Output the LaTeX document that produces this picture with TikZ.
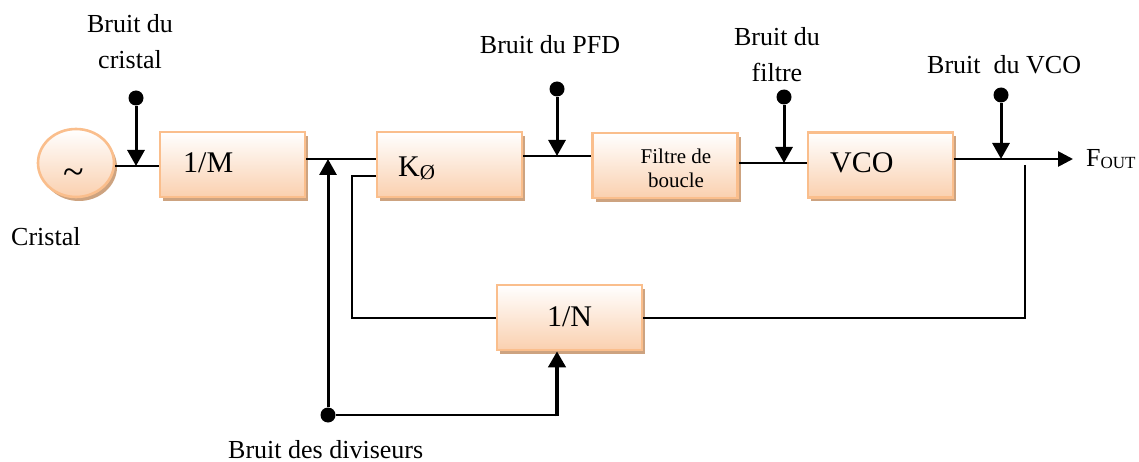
\documentclass[tikz,border=0pt]{standalone}
\usepackage{fontspec}
\setmainfont{Liberation Serif}
\usetikzlibrary{arrows.meta,shapes.geometric,shadows}
\definecolor{bord}{RGB}{250,190,140}
\definecolor{peach}{RGB}{250,208,175}
\definecolor{shad}{RGB}{205,163,128}
\begin{document}
\begin{tikzpicture}[x=1pt,y=-1pt,
  blk/.style={draw=bord, line width=2.6pt, top color=white, bottom color=peach,
    minimum width=145pt, minimum height=65pt, inner sep=0pt,
    general shadow={fill=shad, shadow xshift=3pt, shadow yshift=-4pt}},
  lbl/.style={font=\fontsize{26}{36}\selectfont, inner sep=0pt},
  btxt/.style={font=\fontsize{30}{30}\selectfont, inner sep=0pt},
  wire/.style={line width=2.7pt},
  tip/.style={-{Triangle[length=16pt,width=17pt]}},
  nz/.style={line width=3pt, tip},
  ndot/.style={circle, fill=black, minimum size=15pt, inner sep=0pt},
]
\useasboundingbox (0,0) rectangle (1139,462);

% blocks
\node[blk, ellipse, minimum width=76pt, minimum height=68pt] (cr) at (76,163) {};
\node[blk] (M) at (232.5,164.5) {};
\node[blk] (K) at (449.5,164.5) {};
\node[blk] (F) at (665,165.5) {};
\node[blk] (V) at (880.5,165) {};
\node[blk] (N) at (569.5,317.5) {};

% block texts
\node[font=\fontsize{38}{38}\selectfont, inner sep=0pt] (tl) at (74,177) {\textasciitilde};
\node[btxt, anchor=base west] (tM) at (183,173) {1/M};
\node[btxt, anchor=base west] (tK) at (398,177) {K\raisebox{-3pt}{\fontsize{21}{21}\selectfont Ø}};
\node[font=\fontsize{21}{24}\selectfont, inner sep=0pt, align=center] (tF) at (676,168) {Filtre de\\boucle};
\node[btxt, anchor=base west] (tV) at (830,173) {VCO};
\node[btxt, anchor=base] (tN) at (569.5,326) {1/N};

% labels
\node[lbl, align=center] (lC) at (130,42) {Bruit du\\cristal};
\node[lbl, anchor=base] (lP) at (550,54) {Bruit du PFD};
\node[lbl, align=center] (lF) at (777,55) {Bruit du\\filtre};
\node[lbl, anchor=base west] (lV) at (927,74) {Bruit\ \ du VCO};
\node[lbl, anchor=base west] (lCr) at (11,245) {Cristal};
\node[lbl, anchor=base west] (lD) at (228,458) {Bruit des diviseurs};
\node[lbl, anchor=base west] (fo) at (1086,167) {F\raisebox{-2pt}{\fontsize{17}{17}\selectfont OUT}};

% noise dots
\node[ndot] (dC) at (136,98) {};
\node[ndot] (dP) at (557,89) {};
\node[ndot] (dF) at (784,97) {};
\node[ndot] (dV) at (1001,95) {};
\node[ndot] (dD) at (328,415) {};

% junctions
\coordinate (jC) at (136,166);
\coordinate (jMK) at (328,159);
\coordinate (jP) at (557,156);
\coordinate (jF) at (784,163);
\coordinate (jV) at (1001,159);
\coordinate (fout) at (1073,159);
\coordinate (fbA) at (352,176);
\coordinate (fbB) at (352,318);
\coordinate (fbC) at (1025,165);
\coordinate (fbD) at (1025,318);
\coordinate (cN) at (557,415);

% main path
\draw[wire] (cr.east |- jC) -- (M.west |- jC);
\draw[wire] (M.east |- jMK) -- (K.west |- jMK);
\draw[wire] (K.east |- jP) -- (F.west |- jP);
\draw[wire] (F.east |- jF) -- (V.west |- jF);
\draw[wire, -{Triangle[length=15pt,width=15pt]}] (V.east |- jV) -- (fout);

% feedback
\draw[wire] (fbC) -- (fbD) -- (N.east |- fbD);
\draw[wire] (N.west |- fbB) -- (fbB) -- (fbA) -- (K.west |- fbA);

% noise injections
\draw[nz] (dC) -- (jC);
\draw[nz] (dP) -- (jP);
\draw[nz] (dF) -- (jF);
\draw[nz] (dV) -- (jV);
\draw[nz] (dD) -- (jMK);
\draw[wire] (dD) -- (cN);
\draw[line width=4.5pt, tip] ([yshift=-1.3pt]cN) -- (cN |- N.south);
\end{tikzpicture}
\end{document}
